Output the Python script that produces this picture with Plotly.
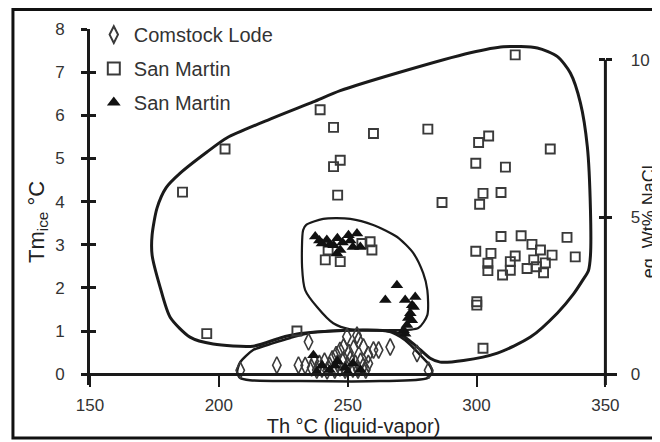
import plotly.graph_objects as go

# ---------------- data ----------------
comstock_x = [208.3, 222.5, 230.9, 234.8, 233.5, 236.0, 237.0, 238.0, 239.0, 240.0, 241.0, 242.0,
              243.0, 244.0, 245.0, 246.0, 247.0, 248.0, 249.0, 250.0, 251.0, 252.0, 253.0, 254.0,
              255.0, 256.0, 257.0, 258.0, 248.4, 249.7, 252.3, 253.6, 254.2, 256.1, 258.0, 260.0,
              262.0, 250.5, 266.5, 276.9, 281.4, 245.5, 247.0]
comstock_y = [0.09, 0.21, 0.21, 0.75, 0.20, 0.15, 0.30, 0.10, 0.25, 0.12, 0.30, 0.08,
              0.20, 0.35, 0.10, 0.25, 0.15, 0.30, 0.10, 0.20, 0.35, 0.12, 0.25, 0.10,
              0.30, 0.18, 0.10, 0.25, 0.63, 0.87, 0.60, 0.90, 0.79, 0.63, 0.45, 0.56,
              0.56, 0.50, 0.63, 0.48, 0.09, 0.45, 0.55]

sm_sq_x = [185.9, 202.4, 195.3, 230.3, 239.3, 244.5, 247.1, 244.5, 246.1, 260.0, 281.1, 315.0,
           300.8, 304.7, 328.6, 299.7, 311.2, 286.6, 302.5, 309.5, 301.2, 309.5, 317.3, 335.1,
           299.7, 305.6, 321.5, 324.8, 329.3, 315.0, 313.1, 304.4, 304.4, 313.1, 310.1, 319.6,
           323.2, 326.7, 326.0, 322.2, 338.3, 300.1, 300.1, 302.5,
           241.3, 247.1, 242.4, 255.5, 258.7, 259.4]
sm_sq_y = [4.22, 5.22, 0.94, 1.00, 6.13, 5.72, 4.96, 4.81, 4.15, 5.58, 5.68, 7.40,
           5.37, 5.52, 5.22, 4.89, 4.80, 3.98, 4.19, 4.21, 3.94, 3.19, 3.21, 3.17,
           2.85, 2.80, 3.01, 2.88, 2.76, 2.74, 2.61, 2.57, 2.40, 2.41, 2.30, 2.45,
           2.49, 2.58, 2.35, 2.65, 2.72, 1.60, 1.68, 0.60,
           2.65, 2.61, 2.88, 3.03, 3.07, 2.88]

sm_tri_x = [237.4, 239.0, 240.0, 241.9, 243.0, 244.5, 245.8, 247.1, 248.0, 250.3, 251.0, 253.6,
            254.9, 252.0, 246.0,
            269.1, 264.6, 272.3, 276.2, 275.6, 274.3, 274.9, 273.0, 271.7, 272.3, 273.5, 275.0,
            236.7, 240.0, 243.0, 246.0, 249.0, 252.0, 255.0, 238.0, 250.0, 245.0]
sm_tri_y = [3.19, 3.10, 3.03, 3.11, 3.00, 2.99, 2.80, 2.88, 3.05, 3.22, 3.10, 3.26,
            2.95, 2.95, 3.15,
            2.06, 1.72, 1.72, 1.79, 1.56, 1.41, 1.25, 1.14, 1.02, 0.94, 1.30, 1.60,
            0.44, 0.20, 0.10, 0.30, 0.15, 0.25, 0.10, 0.05, 0.05, 0.20]

outer_x = [174.1, 176.0, 179.5, 185.0, 195.4, 203.2, 221.1, 236.6, 247.1, 269.2, 297.6, 310.4,
           323.6, 331.4, 336.4, 340.3, 343.0, 344.2, 344.2, 343.4, 341.2, 337.5, 331.4, 320.9,
           308.1, 294.9, 285.9, 282.0, 276.2, 270.4, 265.3, 251.0, 236.6, 230.4, 223.8, 213.3,
           197.8, 188.8, 181.1, 177.2, 174.1, 174.1]
outer_y = [3.23, 3.85, 4.32, 4.66, 5.15, 5.48, 5.94, 6.31, 6.57, 6.98, 7.45, 7.59,
           7.56, 7.36, 6.98, 6.29, 5.27, 3.81, 2.75, 2.40, 2.18, 1.85, 1.42, 0.86,
           0.49, 0.32, 0.28, 0.37, 0.67, 0.93, 1.00, 1.02, 0.97, 0.93, 0.84, 0.65,
           0.70, 0.86, 1.32, 2.02, 2.76, 3.23]

middle_x = [233.9, 240.5, 251.0, 259.9, 269.2, 275.4, 279.3, 280.9, 280.9, 277.4, 266.5, 251.0,
            244.4, 238.2, 233.5, 232.3, 232.7, 233.9]
middle_y = [3.46, 3.60, 3.60, 3.46, 3.18, 2.81, 2.34, 1.95, 1.37, 1.07, 1.02, 1.04,
            1.18, 1.55, 1.95, 2.48, 3.34, 3.46]

bottom_x = [207.1, 208.3, 213.3, 221.1, 227.7, 236.6, 251.0, 265.3, 272.3, 278.2, 282.0, 282.8,
            280.9, 262.6, 231.6, 212.1, 208.3, 207.1]
bottom_y = [0.05, 0.28, 0.56, 0.72, 0.84, 0.97, 1.02, 1.00, 0.79, 0.44, 0.19, 0.05,
            -0.09, -0.16, -0.16, -0.14, -0.09, 0.05]

x_ticks = [150, 200, 250, 300, 350]
y_ticks = [0, 1, 2, 3, 4, 5, 6, 7, 8]
y2_ticks = [0, 5, 10]

# ---------------- geometry ----------------
X_RANGE = [150, 354.5]
Y_RANGE = [-0.25, 8]
RATIO = 10 / 7.285           # wt% NaCl units per Tm unit
Y2_RANGE = [Y_RANGE[0] * RATIO, Y_RANGE[1] * RATIO]
X_POS_350 = (350 - X_RANGE[0]) / (X_RANGE[1] - X_RANGE[0])
Y_POS_0 = (0 - Y_RANGE[0]) / (Y_RANGE[1] - Y_RANGE[0])

FONT = "Liberation Sans, Arial, sans-serif"
INK = "#1a1a1a"
MK = "#3a3a3a"
TXT = "#333333"

fig = go.Figure()

for xs, ys, w in [(outer_x, outer_y, 3), (middle_x, middle_y, 2.2), (bottom_x, bottom_y, 2.5)]:
    fig.add_trace(go.Scatter(x=xs, y=ys, mode="lines",
                             line=dict(color=INK, width=w, shape="spline", smoothing=0.7),
                             showlegend=False, hoverinfo="skip"))

fig.add_trace(go.Scatter(x=comstock_x, y=comstock_y, mode="markers", name="Comstock Lode",
                         legendgroup="a",
                         marker=dict(symbol="diamond-tall-open", size=12, color=MK, line=dict(width=1.6, color=MK))))
fig.add_trace(go.Scatter(x=sm_sq_x, y=sm_sq_y, mode="markers", name="San Martin",
                         legendgroup="b",
                         marker=dict(symbol="square-open", size=9, color=MK, line=dict(width=1.9, color=MK))))
fig.add_trace(go.Scatter(x=sm_tri_x, y=sm_tri_y, mode="markers", name="San Martin",
                         legendgroup="c",
                         marker=dict(symbol="triangle-up", size=11, color="#111111", line=dict(width=0))))

# invisible helper traces so the extra axes are drawn
for ya, yv in [("y2", 5), ("y3", 4), ("y4", 5)]:
    fig.add_trace(go.Scatter(x=[250], y=[yv], yaxis=ya, mode="markers", marker=dict(opacity=0),
                             showlegend=False, hoverinfo="skip"))

# the page body adds an 8 px margin, so the figure is 8 px smaller than the window
fig.update_layout(
    width=652, height=434,
    margin=dict(l=82, r=43, t=21, b=57, autoexpand=False),
    paper_bgcolor="white", plot_bgcolor="white",
    font=dict(family=FONT, color=INK, size=16),
    showlegend=True,
    legend=dict(x=0.0072, y=1.039, xanchor="left", yanchor="top", bgcolor="rgba(0,0,0,0)",
                font=dict(size=20, color=TXT), tracegroupgap=5, itemsizing="constant"),
    xaxis=dict(range=X_RANGE, tickvals=x_ticks, ticks="outside", ticklen=11, tickwidth=2, tickcolor=INK,
               showline=True, linewidth=3, linecolor=INK, showgrid=False, zeroline=False,
               anchor="free", position=Y_POS_0, ticklabelstandoff=3, automargin=False,
               tickfont=dict(size=17, color=TXT),
               title=dict(text="Th °C (liquid-vapor)", font=dict(size=20, color="#222222"), standoff=2)),
    yaxis=dict(range=Y_RANGE, tickvals=y_ticks, ticks="outside", ticklen=6, tickwidth=3, tickcolor=INK,
               showline=True, linewidth=3, linecolor=INK, showgrid=False, zeroline=False,
               ticklabelstandoff=13, tickfont=dict(size=17, color=TXT), automargin=False),
    yaxis3=dict(range=Y_RANGE, overlaying="y", anchor="x", side="left", tickvals=y_ticks, ticks="inside",
                ticklen=6, tickwidth=3, tickcolor=INK, showticklabels=False, showline=False,
                showgrid=False, zeroline=False, automargin=False),
    yaxis2=dict(range=Y2_RANGE, overlaying="y", anchor="free", position=X_POS_350, side="right",
                tickvals=y2_ticks, ticks="outside", ticklen=6, tickwidth=3, tickcolor=INK,
                showline=False, showgrid=False, zeroline=False, ticklabelstandoff=15, automargin=False,
                tickfont=dict(size=17, color=TXT)),
    yaxis4=dict(range=Y2_RANGE, overlaying="y", anchor="free", position=X_POS_350, side="right",
                tickvals=y2_ticks, ticks="inside", ticklen=6, tickwidth=3, tickcolor=INK,
                showticklabels=False, showline=False, showgrid=False, zeroline=False, automargin=False),
)

# right axis line (0 .. 10 wt% NaCl)
fig.add_shape(type="line", xref="x", yref="y", x0=350, x1=350, y0=Y_RANGE[0], y1=10 / RATIO,
              line=dict(color=INK, width=3))

# left axis title
fig.add_annotation(text="Tm<sub>ice</sub> °C", xref="paper", yref="paper", x=-0.0988, y=0.4576,
                   xanchor="center", yanchor="middle",
                   textangle=-90, showarrow=False, font=dict(size=22, color="#222222"))

# right axis title
fig.add_annotation(text="eq. Wt% NaCl", xref="paper", yref="paper", x=1.0615, y=0.458,
                   xanchor="center", yanchor="middle",
                   textangle=-90, showarrow=False, font=dict(size=18, color="#222222"))

# figure frame
fig.add_shape(type="rect", xref="paper", yref="paper", x0=-0.1462, x1=1.09, y0=-0.1489, y1=1.0548,
              line=dict(color="#111111", width=3), fillcolor="rgba(0,0,0,0)")

fig.write_html("out.html")
